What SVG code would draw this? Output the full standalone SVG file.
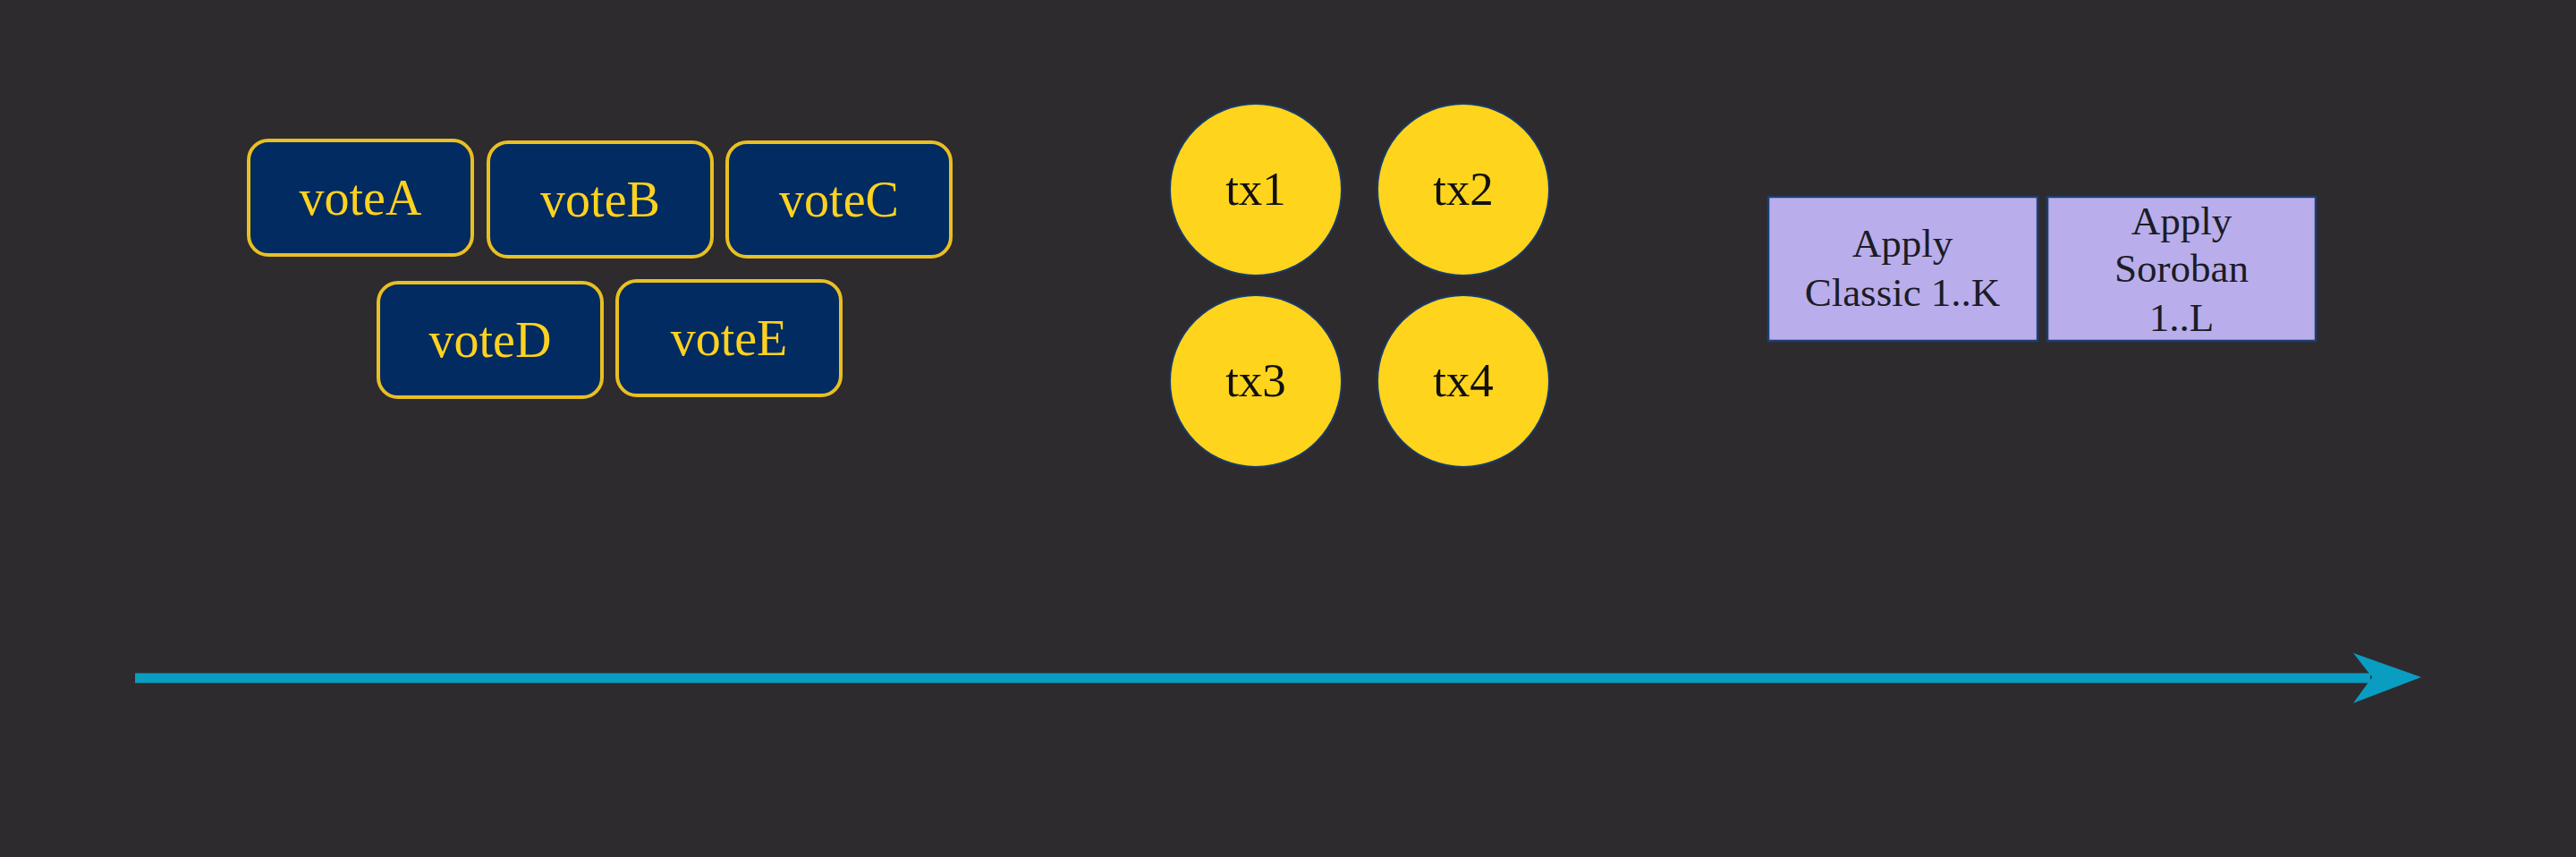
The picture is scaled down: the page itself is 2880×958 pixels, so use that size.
<svg xmlns="http://www.w3.org/2000/svg" width="2880" height="958" viewBox="0 0 2880 958">
<style>
.vote rect{fill:#012B61;stroke:#E9BF22;stroke-width:4}
.vote text{fill:#FFD21F;font-family:"Liberation Serif","DejaVu Serif",serif;font-size:56px;text-anchor:middle}
.tx circle{fill:#FFD41C;stroke:#1A3A6A;stroke-width:2}
.tx text{fill:#111;font-family:"Liberation Serif","DejaVu Serif",serif;font-size:53px;text-anchor:middle}
.apply rect{fill:#B9AEEB;stroke:#1D3F72;stroke-width:2.5}
.apply text{fill:#1C1C26;font-family:"Liberation Serif","DejaVu Serif",serif;font-size:45px;text-anchor:middle}
</style>
<rect x="0" y="0" width="2880" height="958" fill="#2D2B2E"/>
<g id="voteA" class="vote"><rect x="278" y="157" width="250" height="128" rx="22"/><text x="403" y="240">voteA</text></g>
<g id="voteB" class="vote"><rect x="546" y="159" width="250" height="128" rx="22"/><text x="671" y="242">voteB</text></g>
<g id="voteC" class="vote"><rect x="813" y="159" width="250" height="128" rx="22"/><text x="938" y="242">voteC</text></g>
<g id="voteD" class="vote"><rect x="423" y="316" width="250" height="128" rx="22"/><text x="548" y="399">voteD</text></g>
<g id="voteE" class="vote"><rect x="690" y="314" width="250" height="128" rx="22"/><text x="815" y="397">voteE</text></g>
<g id="tx1" class="tx"><circle cx="1404" cy="212" r="96"/><text x="1404" y="229">tx1</text></g>
<g id="tx2" class="tx"><circle cx="1636" cy="212" r="96"/><text x="1636" y="229">tx2</text></g>
<g id="tx3" class="tx"><circle cx="1404" cy="426" r="96"/><text x="1404" y="443">tx3</text></g>
<g id="tx4" class="tx"><circle cx="1636" cy="426" r="96"/><text x="1636" y="443">tx4</text></g>
<g id="applyClassic" class="apply"><rect x="1977" y="220" width="301" height="161"/><text x="2127" y="287">Apply</text><text x="2127" y="342">Classic 1..K</text></g>
<g id="applySoroban" class="apply"><rect x="2289" y="220" width="300" height="161"/><text x="2439" y="262">Apply</text><text x="2439" y="315">Soroban</text><text x="2439" y="370">1..L</text></g>
<g id="connectors">
<line x1="151" y1="758" x2="2650" y2="758" stroke="#0A9DC2" stroke-width="11"/>
<polygon points="2707,757 2631,730 2652,757 2631,786" fill="#0A9DC2"/>
</g>
</svg>
